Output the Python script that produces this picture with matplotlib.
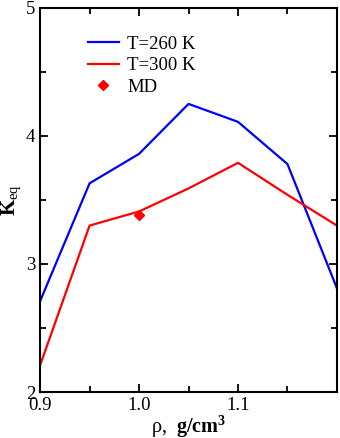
import matplotlib
matplotlib.use('Agg')
import matplotlib.pyplot as plt
from matplotlib.ticker import MultipleLocator, FixedLocator

plt.rcParams['font.family'] = 'Liberation Serif'
plt.rcParams['mathtext.fontset'] = 'custom'
plt.rcParams['mathtext.rm'] = 'Liberation Serif'
plt.rcParams['mathtext.it'] = 'Liberation Serif:italic'
plt.rcParams['mathtext.bf'] = 'Liberation Serif:bold'

rho = [0.90, 0.95, 1.00, 1.05, 1.10, 1.15, 1.20]
k_260 = [2.71, 3.63, 3.86, 4.25, 4.11, 3.78, 2.81]
k_300 = [2.21, 3.30, 3.41, 3.59, 3.79, 3.54, 3.30]
md_rho = [1.00]
md_k = [3.38]

fig = plt.figure(figsize=(3.4, 4.38), dpi=100)
ax = fig.add_axes([0.118, 0.105, 0.873, 0.877])

ax.plot(rho, k_260, color='#0000ff', lw=1.6, label='T=260 K')
ax.plot(rho, k_300, color='#ff0000', lw=1.6, label='T=300 K')
ax.plot(md_rho, md_k, 'D', color='#ff0000', ms=5, ls='none', label='MD')

ax.set_xlim(0.9, 1.2)
ax.set_ylim(2, 5)
ax.xaxis.set_major_locator(FixedLocator([0.9, 1.0, 1.1]))
ax.xaxis.set_minor_locator(FixedLocator([0.95, 1.05, 1.15]))
ax.set_xticklabels(['0.9', '1.0', '1.1'])
ax.yaxis.set_major_locator(MultipleLocator(1))
ax.yaxis.set_minor_locator(MultipleLocator(0.5))

ax.tick_params(which='both', direction='in', top=True, right=True,
               labelsize=13.5, width=1.3)
ax.tick_params(which='major', length=6)
ax.tick_params(which='minor', length=4)
for s in ax.spines.values():
    s.set_linewidth(1.5)

ax.set_xlabel(r'ρ,  $\mathbf{g/cm}^{\mathbf{3}}$', fontsize=14.5, labelpad=0)
ax.set_ylabel(r'$\mathbf{K}_{\mathrm{eq}}$', fontsize=15, labelpad=2)

ax.legend(loc='upper left', bbox_to_anchor=(0.16, 0.927), frameon=False,
          fontsize=13.5, handlelength=1.65, handletextpad=0.45,
          labelspacing=0.22, borderpad=0, borderaxespad=0)

fig.savefig('out.png', dpi=100)
